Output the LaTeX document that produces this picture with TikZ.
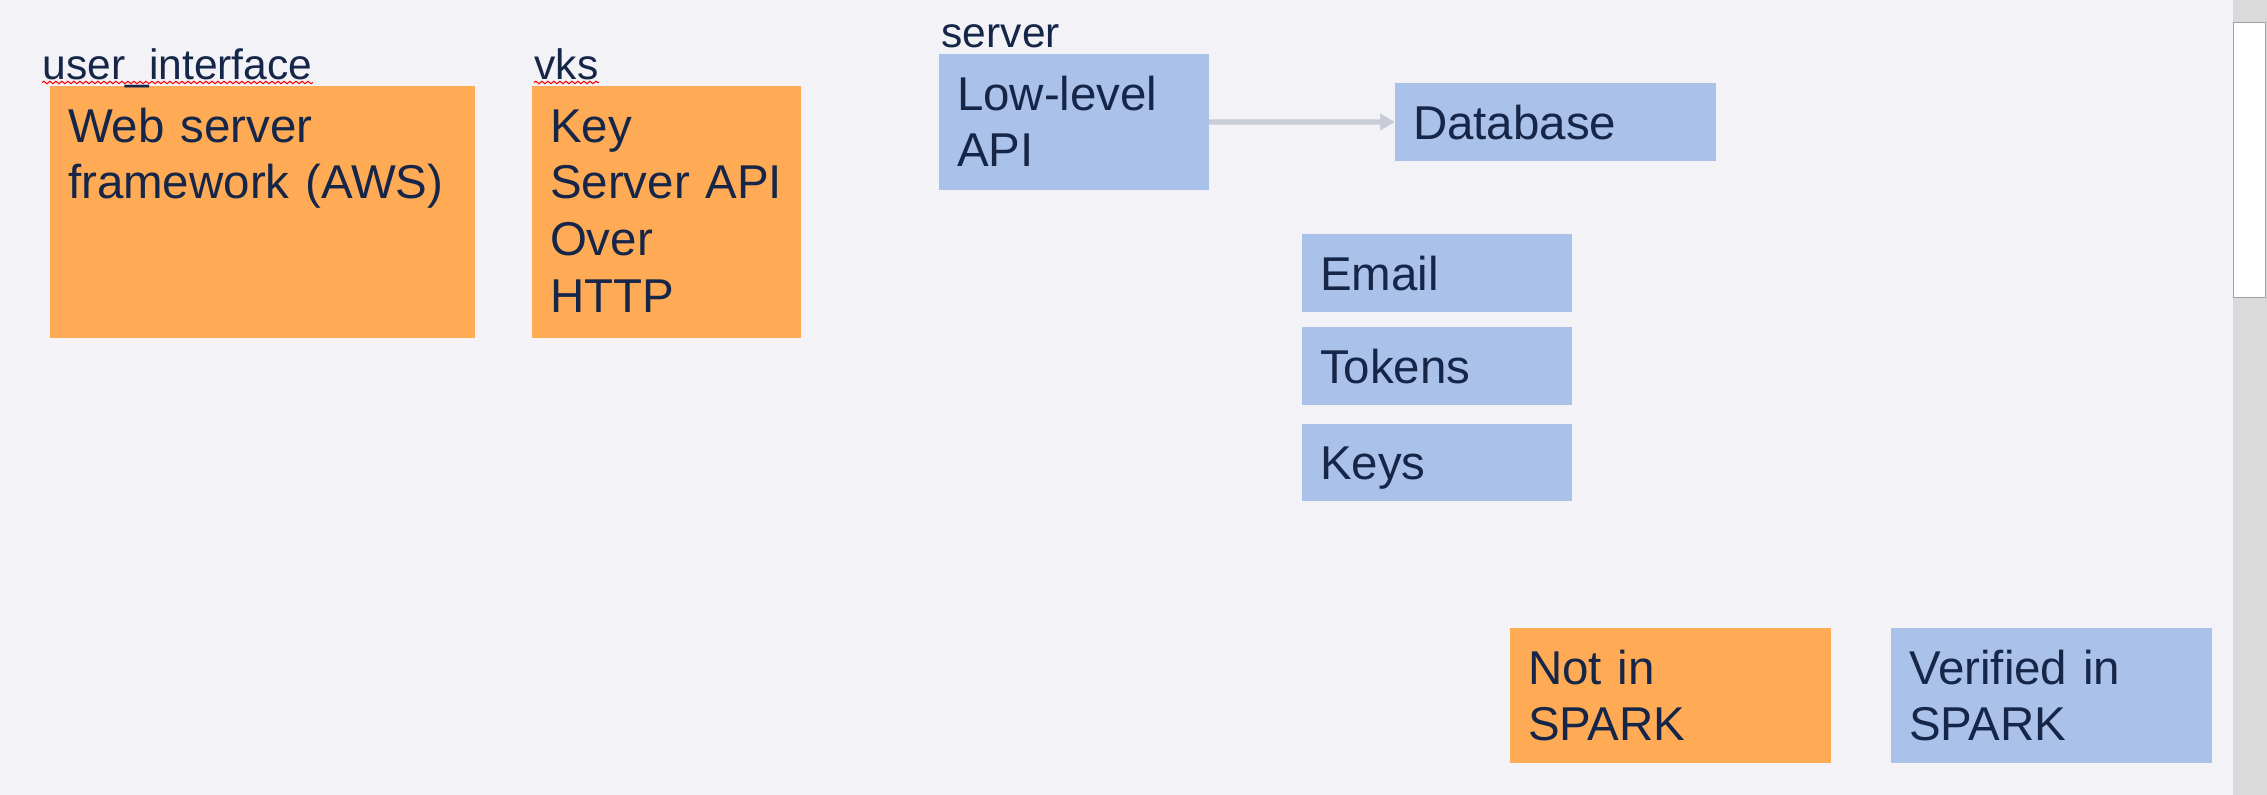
\documentclass[tikz,border=0pt]{standalone}
\usepackage{fontspec}
\setmainfont{Liberation Sans}
\usepackage{tikz}
\usetikzlibrary{shapes, arrows.meta, positioning, decorations.pathmorphing}
\definecolor{bg}{RGB}{243,242,247}
\definecolor{notspark}{RGB}{255,170,85}
\definecolor{verified}{RGB}{170,194,234}
\definecolor{navy}{RGB}{22,38,72}
\definecolor{arrowgray}{RGB}{200,204,214}
\definecolor{scrollgray}{RGB}{218,218,218}
\definecolor{thumbgray}{RGB}{160,160,160}
\tikzstyle{box} = [rectangle, anchor=north west, inner xsep=0.18cm, inner ysep=0pt, outer sep=0pt, align=left, text height=0.56cm, text=navy, font=\fontsize{13.5pt}{16.2pt}\selectfont]
\tikzstyle{orangebox} = [box, fill=notspark]
\tikzstyle{bluebox} = [box, fill=verified]
\tikzstyle{module} = [anchor=base west, inner sep=0pt, text=navy, font=\fontsize{12.1pt}{14pt}\selectfont]
\tikzstyle{spell} = [red, line width=0.3pt, decorate, decoration={snake, amplitude=0.012cm, segment length=0.06cm}]
\tikzstyle{edge} = [line width=1.5pt, draw=arrowgray, ->, >={Triangle[length=0.15cm, width=0.16cm]}]

\begin{document}
\begin{tikzpicture}[x=0.01cm, y=-0.01cm]

\fill [bg] (0,0) rectangle (2267,795);
\useasboundingbox (0,0) rectangle (2267,795);

% components
\node (web) [orangebox, text width=3.89cm, text depth=1.96cm] at (50,86) {Web server\\framework (AWS)};
\node (vks) [orangebox, text width=2.33cm, text depth=1.96cm] at (532,86) {Key\\Server API\\Over\\HTTP};
\node (lowapi) [bluebox, text width=2.34cm, text depth=0.80cm] at (939,54) {Low-level\\API};
\node (db) [bluebox, text width=2.85cm, text depth=0.22cm] at (1395,83) {Database};
\node (email) [bluebox, text width=2.34cm, text depth=0.215cm] at (1302,234) {Email};
\node (tokens) [bluebox, text width=2.34cm, text depth=0.215cm, below=0.155cm of email] {Tokens};
\node (keys) [bluebox, text width=2.34cm, text depth=0.215cm, below=0.19cm of tokens] {Keys};

% package names
\node (uilabel) [module] at (42,80) {user\_interface};
\node (vkslabel) [module] at (534,80) {vks};
\node (serverlabel) [module] at (941,48) {server};
\draw [spell] ([yshift=-0.025cm]uilabel.base west) -- ([yshift=-0.025cm]uilabel.base east);
\draw [spell] ([yshift=-0.025cm]vkslabel.base west) -- ([yshift=-0.025cm]vkslabel.base east);

% legend
\node (notin) [orangebox, text width=2.85cm, text depth=0.79cm] at (1510,628) {Not in\\SPARK};
\node (verif) [bluebox, text width=2.85cm, text depth=0.79cm] at (1891,628) {Verified in\\SPARK};

\draw [edge] (lowapi) -- (db);

% scroll bar
\fill [scrollgray] (2233,0) rectangle (2267,795);
\filldraw [fill=white, draw=thumbgray, line width=0.4pt] (2233.5,22.3) rectangle (2265.7,297.3);

\end{tikzpicture}
\end{document}
